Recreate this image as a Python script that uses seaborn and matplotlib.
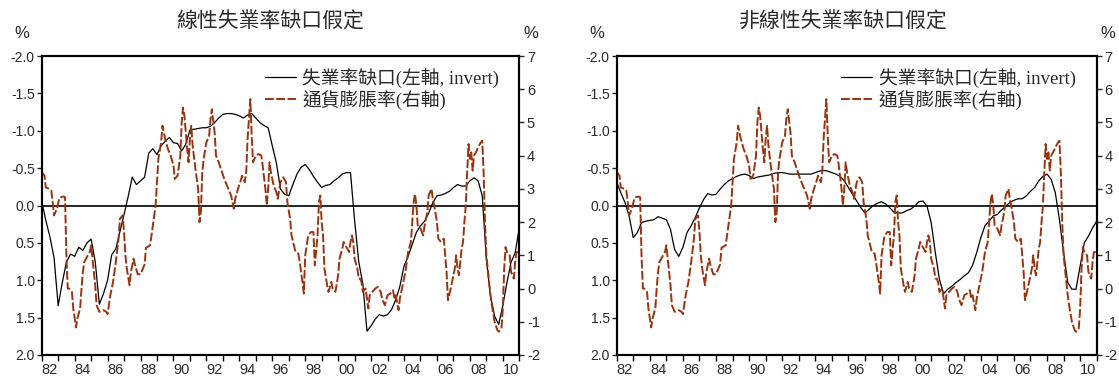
import numpy as np
import pandas as pd
import matplotlib
matplotlib.use("Agg")
import matplotlib.pyplot as plt
import seaborn as sns
from matplotlib.ticker import FixedLocator, NullFormatter, FixedFormatter

sns.set_style("ticks")
plt.rcParams["font.family"] = ["Liberation Sans", "Noto Sans CJK TC"]

# Unemployment-rate gap, quarterly from 1982Q1 to 2011Q1 (percentage points)
gap_linear = [
    -0.06, 0.20, 0.42, 0.70,
    1.34, 1.03, 0.76, 0.65,
    0.68, 0.56, 0.60, 0.50,
    0.45, 0.75, 1.32, 1.18,
    1.00, 0.66, 0.58, 0.35,
    0.12, -0.12, -0.38, -0.28,
    -0.33, -0.38, -0.70, -0.76,
    -0.68, -0.80, -0.86, -0.91,
    -0.84, -0.83, -0.73, -0.82,
    -1.01, -1.02, -1.03, -1.04,
    -1.04, -1.06, -1.11, -1.17,
    -1.22, -1.23, -1.23, -1.22,
    -1.20, -1.17, -1.21, -1.23,
    -1.17, -1.11, -1.07, -1.04,
    -0.80, -0.57, -0.22, -0.15,
    -0.13, -0.28, -0.42, -0.51,
    -0.55, -0.48, -0.39, -0.31,
    -0.24, -0.27, -0.28, -0.33,
    -0.37, -0.42, -0.44, -0.44,
    0.20, 0.75, 1.05, 1.68,
    1.61, 1.52, 1.46, 1.48,
    1.46, 1.39, 1.26, 1.08,
    0.81, 0.68, 0.52, 0.36,
    0.27, 0.21, 0.10, -0.04,
    -0.13, -0.14, -0.16, -0.19,
    -0.24, -0.28, -0.26, -0.26,
    -0.33, -0.37, -0.33, -0.13,
    0.72, 1.21, 1.48, 1.59,
    1.34, 1.03, 0.76, 0.63,
    0.30,
]

gap_nonlinear = [
    -0.31, -0.17, -0.04, 0.14,
    0.43, 0.36, 0.23, 0.21,
    0.20, 0.19, 0.15, 0.17,
    0.19, 0.32, 0.59, 0.68,
    0.56, 0.36, 0.27, 0.16,
    0.03, -0.08, -0.16, -0.14,
    -0.15, -0.22, -0.28, -0.33,
    -0.36, -0.39, -0.41, -0.42,
    -0.40, -0.36, -0.38, -0.39,
    -0.40, -0.41, -0.43, -0.44,
    -0.44, -0.43, -0.42, -0.42,
    -0.42, -0.42, -0.42, -0.42,
    -0.44, -0.46, -0.47, -0.46,
    -0.44, -0.42, -0.39, -0.33,
    -0.24, -0.15, -0.06, 0.03,
    0.10, 0.05, 0.00, -0.03,
    -0.05, -0.02, 0.03, 0.09,
    0.10, 0.10, 0.07, 0.05,
    0.01, -0.05, -0.06, 0.01,
    0.23, 0.63, 0.99, 1.18,
    1.12, 1.08, 1.03, 0.99,
    0.94, 0.90, 0.80, 0.63,
    0.43, 0.27, 0.21, 0.14,
    0.12, 0.06, 0.01, -0.04,
    -0.07, -0.09, -0.09, -0.13,
    -0.19, -0.24, -0.33, -0.39,
    -0.42, -0.35, -0.17, 0.19,
    0.63, 1.03, 1.12, 1.12,
    0.81, 0.50, 0.41, 0.30,
    0.21,
]

# CPI inflation (% yoy); observation month counted from January 1982
infl_month = [
    0, 2, 3, 6, 7, 8, 9, 11, 13, 16, 17, 18, 19, 20, 22, 23, 25, 26, 28, 29,
    30, 31, 33, 35, 36, 37, 38, 39, 40, 42, 45, 47, 48, 50, 52, 54, 56, 57, 59, 60,
    61, 62, 64, 65, 67, 68, 70, 72, 75, 76, 79, 81, 83, 85, 87, 88, 90, 92, 94, 96,
    97, 99, 101, 102, 103, 104, 106, 107, 108, 109, 110, 112, 114, 115, 116, 117, 118, 120, 122, 123,
    124, 126, 127, 129, 131, 133, 136, 138, 140, 141, 143, 145, 146, 148, 149, 150, 151, 152, 153, 154,
    156, 158, 160, 161, 163, 164, 165, 166, 167, 169, 171, 172, 174, 176, 178, 179, 181, 182, 185, 187,
    188, 190, 191, 192, 194, 196, 198, 199, 201, 202, 203, 204, 205, 206, 208, 209, 211, 212, 214, 216,
    217, 219, 220, 222, 224, 225, 226, 227, 228, 230, 231, 232, 233, 234, 236, 238, 239, 241, 243, 245,
    247, 248, 250, 252, 254, 256, 257, 258, 260, 261, 263, 265, 267, 269, 270, 271, 272, 273, 274, 276,
    278, 279, 281, 282, 284, 285, 286, 288, 289, 291, 293, 294, 295, 296, 298, 299, 301, 302, 303, 304,
    306, 307, 308, 309, 310, 311, 312, 313, 314, 315, 317, 318, 320, 321, 322, 323, 324, 326, 327, 328,
    330, 332, 333, 335, 336, 337, 338, 339, 341, 342, 344, 345, 346, 348,
]
infl_value = [
    3.51, 3.40, 3.04, 3.00, 2.95, 2.60, 2.20, 2.40, 2.74, 2.77, 2.75, 0.98, 0.00, 0.00, -0.10, -0.60, -1.17, -0.90, -0.60, 0.00,
    0.50, 0.80, 0.95, 1.10, 1.30, 0.90, 0.50, 0.10, -0.50, -0.70, -0.65, -0.70, -0.77, -0.20, 0.20, 0.80, 1.50, 2.10, 2.20, 1.70,
    1.00, 0.60, 0.10, 0.50, 0.90, 0.70, 0.43, 0.43, 0.73, 1.23, 1.30, 1.90, 2.50, 3.90, 4.40, 4.90, 4.50, 4.20, 4.00, 3.70,
    3.30, 3.40, 4.00, 5.00, 5.45, 5.20, 4.20, 3.80, 4.50, 4.90, 4.30, 3.60, 3.00, 2.00, 2.30, 3.50, 3.90, 4.40, 4.60, 5.10,
    5.40, 4.70, 4.00, 3.80, 3.55, 3.30, 3.00, 2.80, 2.40, 2.70, 3.00, 3.25, 3.40, 3.20, 3.50, 4.50, 5.10, 5.70, 4.60, 3.80,
    4.00, 4.05, 4.00, 3.70, 3.00, 2.50, 3.00, 3.80, 3.50, 3.10, 2.90, 2.70, 3.20, 3.35, 3.20, 2.60, 2.10, 1.60, 1.10, 1.05,
    0.80, 0.20, -0.15, 1.00, 1.55, 1.70, 1.70, 0.70, 1.60, 2.60, 2.80, 2.00, 1.60, 0.60, 0.10, -0.10, 0.20, 0.00, -0.10, 0.40,
    0.90, 1.20, 1.40, 1.25, 1.10, 1.40, 1.60, 1.40, 0.90, 0.60, 0.30, 0.30, 0.20, -0.10, 0.00, -0.60, -0.20, -0.10, 0.00, 0.05,
    -0.10, -0.30, -0.50, -0.20, -0.15, -0.05, -0.30, -0.20, -0.65, -0.30, 0.10, 0.50, 1.10, 1.40, 2.00, 2.60, 2.85, 2.50, 1.90, 1.80,
    1.60, 1.90, 2.30, 2.80, 3.00, 2.70, 2.50, 2.00, 1.50, 1.40, 1.50, 1.00, 0.50, -0.35, 0.00, 0.20, 0.60, 1.00, 0.60, 0.40,
    1.20, 1.40, 2.00, 2.50, 3.50, 4.35, 3.90, 4.10, 3.55, 4.00, 4.15, 4.25, 4.40, 4.45, 3.50, 2.00, 1.00, 0.20, -0.20, -0.50,
    -1.00, -1.25, -1.30, -1.20, -0.60, 0.60, 1.25, 1.10, 1.00, 0.50, 0.30, 0.80, 1.10, 1.10,
]

titles = ["線性失業率缺口假定", "非線性失業率缺口假定"]
label_gap = "失業率缺口(左軸, invert)"
label_infl = "通貨膨脹率(右軸)"
year_labels = ["82", "84", "86", "88", "90", "92", "94", "96", "98",
               "00", "02", "04", "06", "08", "10"]

start_year = 1982
q_time = start_year + np.arange(len(gap_linear)) / 4.0
infl = pd.DataFrame({"t": start_year + np.array(infl_month) / 12.0, "v": infl_value})

W, H = 1119, 376
fig = plt.figure(figsize=(W / 100, H / 100), dpi=100)

INFL_COLOR = "#9a3310"
TXT = "#2a2a2a"
top_px, bot_px = 56, 355
panels = [
    dict(x0=41.7, x1=519.3, title_x=270, gap=gap_linear, title=titles[0],
         pct=(22, 531)),
    dict(x0=616.7, x1=1096.7, title_x=843, gap=gap_nonlinear, title=titles[1],
         pct=(597, 1108)),
]

legend_font = {"family": ["Liberation Serif", "Noto Sans CJK TC"], "size": 13.5}

for p in panels:
    ax = fig.add_axes([p["x0"] / W, (H - bot_px) / H,
                       (p["x1"] - p["x0"]) / W, (bot_px - top_px) / H])
    ax2 = ax.twinx()

    gdf = pd.DataFrame({"t": q_time, "v": p["gap"]})
    sns.lineplot(data=gdf, x="t", y="v", ax=ax, color="black", linewidth=0.9,
                 label=label_gap, legend=False)
    ax.axhline(0, color="black", linewidth=1.2, zorder=1)

    sns.lineplot(data=infl, x="t", y="v", ax=ax2, color=INFL_COLOR,
                 linewidth=1.4, label=label_infl, legend=False)
    ax2.lines[0].set_linestyle((0, (4.5, 1.3)))

    # axes ranges: left axis inverted
    ax.set_xlim(start_year, 2011)
    ax.set_ylim(2.0, -2.0)
    ax2.set_ylim(-2, 7)
    ax.set_xlabel("")
    ax.set_ylabel("")
    ax2.set_ylabel("")

    ax.set_yticks(np.arange(-2.0, 2.01, 0.5))
    ax.set_yticklabels([f"{v:.1f}" for v in np.arange(-2.0, 2.01, 0.5)])
    ax2.set_yticks(np.arange(-2, 8, 1))
    ax2.set_yticklabels([str(v) for v in range(-2, 8)])

    years = np.arange(start_year, 2012)
    ax.xaxis.set_major_locator(FixedLocator(years))
    ax.xaxis.set_major_formatter(NullFormatter())
    label_pos = np.arange(start_year, 2011, 2) + 0.5
    ax.xaxis.set_minor_locator(FixedLocator(label_pos))
    ax.xaxis.set_minor_formatter(FixedFormatter(year_labels))
    ax.tick_params(axis="x", which="minor", length=0, pad=6,
                   labelsize=10.5, labelcolor=TXT)
    ax.tick_params(axis="x", which="major", length=4.5, width=1.0,
                   direction="out", color="black")
    ax.tick_params(axis="y", length=3.5, width=1.0, pad=1.5,
                   labelsize=10, labelcolor=TXT)
    ax2.tick_params(axis="y", length=3.5, width=1.0, pad=2,
                    labelsize=10.5, labelcolor=TXT)

    for a in (ax, ax2):
        for s in a.spines.values():
            s.set_visible(True)
            s.set_linewidth(1.5)
            s.set_color("black")

    handles = ax.get_lines()[:1] + ax2.get_lines()[:1]
    leg = ax2.legend(handles, [label_gap, label_infl], loc="upper left",
                     bbox_to_anchor=(0.4675, 0.96), frameon=False,
                     prop=legend_font, borderpad=0, borderaxespad=0,
                     handlelength=1.65, handletextpad=0.35, labelspacing=0.1)
    for t in leg.get_texts():
        t.set_color(TXT)

    fig.text(p["title_x"] / W, 1 - 22 / H, p["title"], ha="center",
             va="center", fontsize=15, color=TXT,
             family=["Noto Sans CJK TC", "DejaVu Sans"])
    for px in p["pct"]:
        fig.text(px / W, 1 - 33 / H, "%", ha="center", va="center",
                 fontsize=12, color=TXT)

fig.savefig("out.png", dpi=100)
